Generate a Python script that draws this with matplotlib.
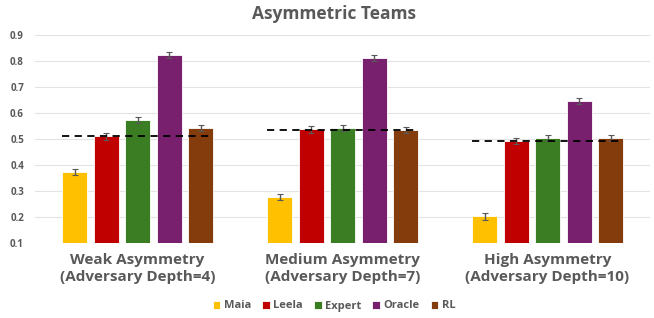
import matplotlib
matplotlib.use("Agg")
import matplotlib.pyplot as plt
import numpy as np

categories = ["Weak Asymmetry\n(Adversary Depth=4)", "Medium Asymmetry\n(Adversary Depth=7)", "High Asymmetry\n(Adversary Depth=10)"]
series = ["Maia", "Leela", "Expert", "Oracle", "RL"]
maia = [0.372, 0.277, 0.202]
leela = [0.510, 0.537, 0.493]
expert = [0.573, 0.541, 0.503]
oracle = [0.824, 0.811, 0.646]
rl = [0.543, 0.535, 0.503]
errors = [0.012, 0.012, 0.012]
baseline = [0.510, 0.535, 0.493]
yticks = [0.1, 0.2, 0.3, 0.4, 0.5, 0.6, 0.7, 0.8, 0.9]

colors = ["#FFC000", "#C00000", "#3B7D23", "#78206E", "#843C0C"]
values = [maia, leela, expert, oracle, rl]

plt.rcParams['font.family'] = ['Open Sans', 'DejaVu Sans']
fig = plt.figure(figsize=(6.54, 3.18), dpi=100)
ax = fig.add_axes([35/654, 1-243/318, 615/654, (243-35)/318])

x = np.arange(len(categories))
step = 31.5/205
width = 25/205
for i, (s, v, c) in enumerate(zip(series, values, colors)):
    pos = x + (i-2)*step
    ax.bar(pos, v, width=width, color=c, edgecolor="white", linewidth=0.6, label=s, zorder=2)
    ax.errorbar(pos, v, yerr=errors, fmt="none", ecolor="#595959", elinewidth=1.0, capsize=2, capthick=0.8, zorder=3)

for xi, b in zip(x, baseline):
    ax.plot([xi-2*step-width/2, xi+2*step+width/2], [b, b], color="black", linestyle=(0, (4, 3)), linewidth=1.3, zorder=4)

ax.set_xlim(-0.5, 2.5)
ax.set_ylim(0.1, 0.9)
ax.set_yticks(yticks)
ax.set_yticklabels([f"{t:.1f}" for t in yticks])
ax.yaxis.grid(True, color="#E3E3E3", linewidth=0.8, zorder=0)
ax.set_axisbelow(True)
for sp in ax.spines.values():
    sp.set_visible(False)
ax.tick_params(axis="y", length=0, labelsize=7, labelcolor="#595959", pad=8)
for lab in ax.get_yticklabels():
    lab.set_fontweight("bold")
ax.set_xticks(x)
ax.set_xticklabels(categories, fontsize=11, fontweight="bold", color="#595959", linespacing=1.3)
ax.tick_params(axis="x", length=0, pad=7)

fig.text(334/654, 1-14/318, "Asymmetric Teams", ha="center", va="center", fontsize=12.5, fontweight="bold", color="#595959")

leg = fig.legend(loc="center", bbox_to_anchor=(334/654, 1-306/318), ncol=5, frameon=False,
                 fontsize=8, handlelength=0.7, handleheight=0.7, handletextpad=0.3, columnspacing=1.0)
for t in leg.get_texts():
    t.set_color("#595959")
    t.set_fontweight("bold")

fig.savefig("out.png", dpi=100)
